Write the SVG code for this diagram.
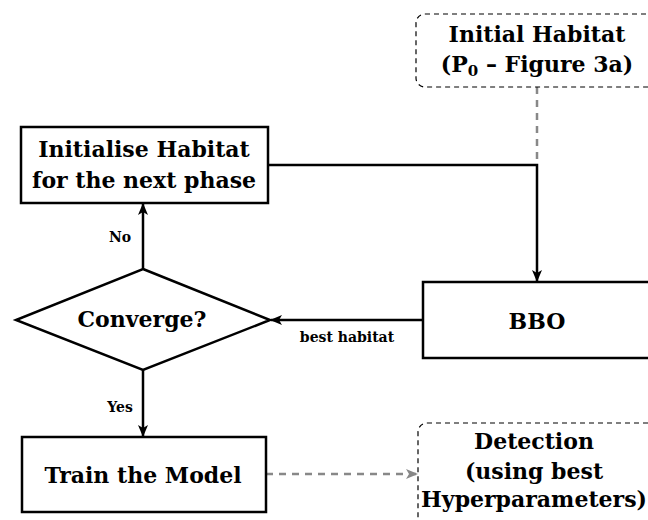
<svg xmlns="http://www.w3.org/2000/svg" width="648" height="520" viewBox="0 0 648 520">
  <style>
    .big { font-family: "DejaVu Serif", "Liberation Serif", serif; font-weight: bold; font-size: 22px; fill: #000; text-anchor: middle; }
    .lbl { font-family: "DejaVu Serif", "Liberation Serif", serif; font-weight: bold; font-size: 14px; fill: #000; text-anchor: middle; }
    .box { fill: #fff; stroke: #000; stroke-width: 2.5; }
    .opt { fill: #fff; stroke: #000; stroke-width: 1.2; stroke-dasharray: 5 4; }
    .solid { fill: none; stroke: #000; stroke-width: 2.5; }
    .dash { fill: none; stroke: #888; stroke-width: 2.5; stroke-dasharray: 7 6; }
  </style>
  <defs>
    <marker id="ahBlack" viewBox="0 0 12 10" refX="11" refY="5" markerWidth="12" markerHeight="10" markerUnits="userSpaceOnUse" orient="auto">
      <path d="M0,0 L12,5 L0,10 L3,5 Z" fill="#000"/>
    </marker>
    <marker id="ahGrey" viewBox="0 0 12 10" refX="11" refY="5" markerWidth="12" markerHeight="10" markerUnits="userSpaceOnUse" orient="auto">
      <path d="M0,0 L12,5 L0,10 L3,5 Z" fill="#888"/>
    </marker>
  </defs>

  <g id="connectors">
    <!-- initial habitat feeds the loop -->
    <path class="dash" d="M537,87 L537,165"/>
    <!-- re-initialised habitat back into BBO -->
    <path class="solid" d="M268,165 L537,165 L537,281" marker-end="url(#ahBlack)"/>
    <!-- BBO best habitat to decision -->
    <path class="solid" d="M423,320 L271,320" marker-end="url(#ahBlack)"/>
    <!-- decision: no -->
    <path class="solid" d="M143,269 L143,204" marker-end="url(#ahBlack)"/>
    <!-- decision: yes -->
    <path class="solid" d="M143,370 L143,436" marker-end="url(#ahBlack)"/>
    <!-- trained model to detection -->
    <path class="dash" d="M266,474 L417,474" marker-end="url(#ahGrey)"/>
    <text class="lbl" x="120" y="242">No</text>
    <text class="lbl" x="120" y="412">Yes</text>
    <text class="lbl" x="347" y="342">best habitat</text>
  </g>

  <g id="initial-habitat">
    <rect class="opt" x="416" y="14" width="250" height="73" rx="9"/>
    <text class="big" x="537" y="42">Initial Habitat</text>
    <text class="big" x="537" y="72">(P<tspan font-size="15" dy="4">0</tspan><tspan dy="-4"> – Figure 3a)</tspan></text>
  </g>

  <g id="initialise">
    <rect class="box" x="21" y="127" width="247" height="76"/>
    <text class="big" x="144" y="157">Initialise Habitat</text>
    <text class="big" x="144" y="188">for the next phase</text>
  </g>

  <g id="converge">
    <polygon class="box" points="143,269 270,320 143,370 16,320" stroke-width="2"/>
    <text class="big" x="142" y="327">Converge?</text>
  </g>

  <g id="bbo">
    <rect class="box" x="423" y="282" width="240" height="76"/>
    <text class="big" x="537" y="329">BBO</text>
  </g>

  <g id="train">
    <rect class="box" x="22" y="437" width="244" height="75"/>
    <text class="big" x="143" y="483">Train the Model</text>
  </g>

  <g id="detection">
    <rect class="opt" x="418" y="423" width="240" height="110" rx="9"/>
    <text class="big" x="534" y="449">Detection</text>
    <text class="big" x="534" y="479">(using best</text>
    <text class="big" x="534" y="507">Hyperparameters)</text>
  </g>
</svg>
